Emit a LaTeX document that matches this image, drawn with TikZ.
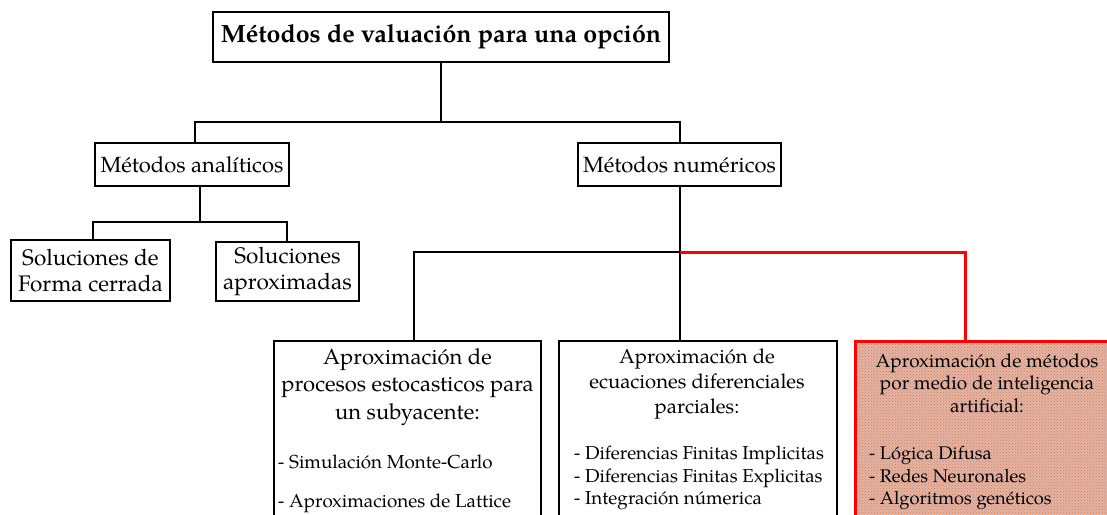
\documentclass[tikz,border=0pt]{standalone}
\usepackage{fontspec}
\setmainfont{TeX Gyre Pagella}
\usetikzlibrary{positioning,patterns}
\definecolor{iafill}{RGB}{222,180,172}
\definecolor{iadots}{RGB}{236,122,50}
\tikzset{
    box/.style={draw, line width=2pt, inner sep=0pt},
    conn/.style={line width=2pt},
    redconn/.style={line width=3pt, red},
    head/.style={align=center, inner sep=0pt, anchor=north},
    items/.style={align=left, inner sep=0pt, anchor=north west}
}
\begin{document}
\begin{tikzpicture}[x=1pt, y=-1pt]
            \useasboundingbox (0,0) rectangle (1107,514);
            \clip (0,0) rectangle (1107,514);
            
            \node[box, minimum width=456pt, minimum height=50pt, font=\fontsize{25}{29}\selectfont\bfseries] (title) at (441,37) {Métodos de valuación para una opción};
            
            \node[box, minimum width=194pt, minimum height=43pt, font=\fontsize{22}{26}\selectfont] (ana) at (192,164.5) {Métodos analíticos};
            \node[box, minimum width=203pt, minimum height=43pt, font=\fontsize{22}{26}\selectfont] (num) at (679.5,164.5) {Métodos numéricos};
            
            \node[box, minimum width=159pt, minimum height=61pt, align=center, font=\fontsize{22.5}{26}\selectfont] (sfc) at (90.5,270.5) {Soluciones de\\Forma cerrada};
            \node[box, minimum width=143pt, minimum height=59pt, align=center, font=\fontsize{22.5}{26}\selectfont] (sap) at (287.5,271.5) {Soluciones\\aproximadas};
            
            \node[box, minimum width=267pt, minimum height=300pt, anchor=north] (proc) at (407.5,340) {};
            \node[box, minimum width=278pt, minimum height=300pt, anchor=north] (edp) at (698,340) {};
            \node[draw=red, line width=3pt, inner sep=0pt, minimum width=300pt, minimum height=300pt, anchor=north, preaction={fill=iafill}, pattern=crosshatch dots, pattern color=iadots] (ia) at (1005,340) {};
            
            % textos de las cajas
            \node[head, font=\fontsize{22}{27.5}\selectfont] (proct) at (407.5,348) {Aproximación de\\procesos estocasticos para\\un subyacente:};
            \node[items, font=\fontsize{18.8}{39}\selectfont] (proci) at (278,455) {- Simulación Monte-Carlo\\- Aproximaciones de Lattice};
            
            \node[head, font=\fontsize{20.3}{25}\selectfont] (edpt) at (697,349) {Aproximación de\\ecuaciones diferenciales\\parciales:};
            \node[items, font=\fontsize{18.7}{22.3}\selectfont] (edpi) at (574,446) {- Diferencias Finitas Implicitas\\- Diferencias Finitas Explicitas\\- Integración númerica};
            
            \node[head, font=\fontsize{19}{22.5}\selectfont] (iat) at (987,353) {Aproximación de métodos\\por medio de inteligencia\\artificial:};
            \node[items, font=\fontsize{18.3}{22.5}\selectfont] (iai) at (869,446) {- Lógica Difusa\\- Redes Neuronales\\- Algoritmos genéticos};
            
            \coordinate (j1) at (441,122);
            \coordinate (j1l) at (195,122);
            \coordinate (j1r) at (680,122);
            \coordinate (j2) at (200,222);
            \coordinate (j2l) at (93,222);
            \coordinate (j2r) at (287,222);
            \coordinate (j3) at (680,252);
            \coordinate (j3l) at (414,252);
            \coordinate (j3r) at (965,252);
            
            \draw[conn] (title) -- (j1);
            \draw[conn] (j1l |- ana.north) -- (j1l) -- (j1r) -- (j1r |- num.north);
            
            \draw[conn] (j2 |- ana.south) -- (j2);
            \draw[conn] (j2l |- sfc.north) -- (j2l) -- (j2r) -- (j2r |- sap.north);
            
            \draw[conn] (j3 |- num.south) -- (j3 |- edp.north);
            \draw[conn] (j3) -- (j3l) -- (j3l |- proc.north);
            \draw[redconn] (j3) -- (j3r) -- (j3r |- ia.north);
        \end{tikzpicture}
\end{document}
